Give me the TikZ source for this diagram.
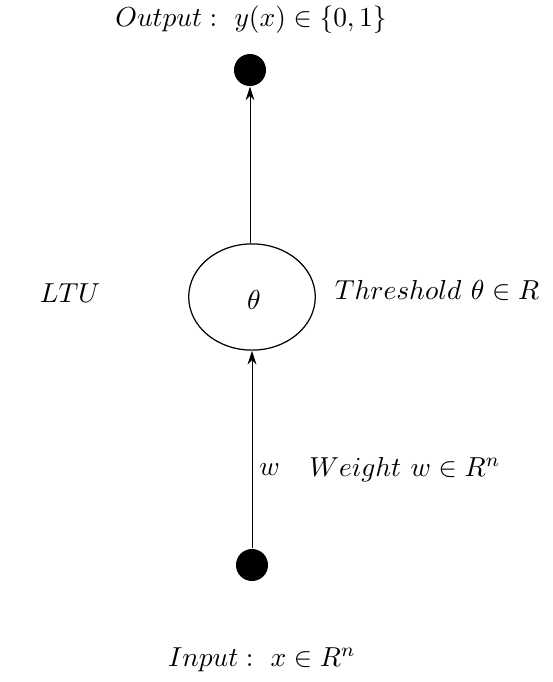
\documentclass[tikz,border=0pt]{standalone}
\usepackage{amsmath}
\usetikzlibrary{shapes.geometric, arrows.meta, positioning}

\begin{document}
\begin{tikzpicture}[
  x=0.0128cm, y=-0.0128cm,
  font=\fontsize{10.4}{12.5}\selectfont,
  punto/.style={circle, fill=black, minimum size=0.41cm, inner sep=0pt},
  unita/.style={draw=black, ellipse, minimum width=1.62cm, minimum height=1.36cm,
                inner sep=0pt, line width=0.45pt},
  etichetta/.style={inner sep=1pt},
  freccia/.style={draw=black, line width=0.35pt, -{Stealth[length=5pt,width=3.2pt]}}
]
\useasboundingbox (0,0) rectangle (553,682);

%--------------------------------------------------------------
% Nodi principali
%--------------------------------------------------------------
\node[punto] (uscita) at (250,70) {};
\node[unita] (ltu) at (252,297) {};
\node at (254,300) (soglia) {$\theta$};
\node[punto] (ingresso) at (252,565) {};

%--------------------------------------------------------------
% Collegamenti
%--------------------------------------------------------------
\draw[freccia] (ingresso.north) -- (ingresso.north |- ltu.south);
\draw[freccia] (ltu.north -| uscita) -- (uscita.south);

%--------------------------------------------------------------
% Etichette
%--------------------------------------------------------------
\node[etichetta] (lblout) at (251,20) {$Output:\ y(x)\in\{0,1\}$};
\node[etichetta] (lblltu) at (70,293) {$LTU$};
\node[etichetta] (lblsoglia) at (437,290) {$Threshold\ \theta\in R$};
\node[etichetta, anchor=west] (lblw) at (256,470) {$w$};
\node[etichetta] (lblpeso) at (405,470) {$Weight\ w\in R^n$};
\node[etichetta] (lblin) at (262,660) {$Input:\ x\in R^n$};

\end{tikzpicture}
\end{document}
